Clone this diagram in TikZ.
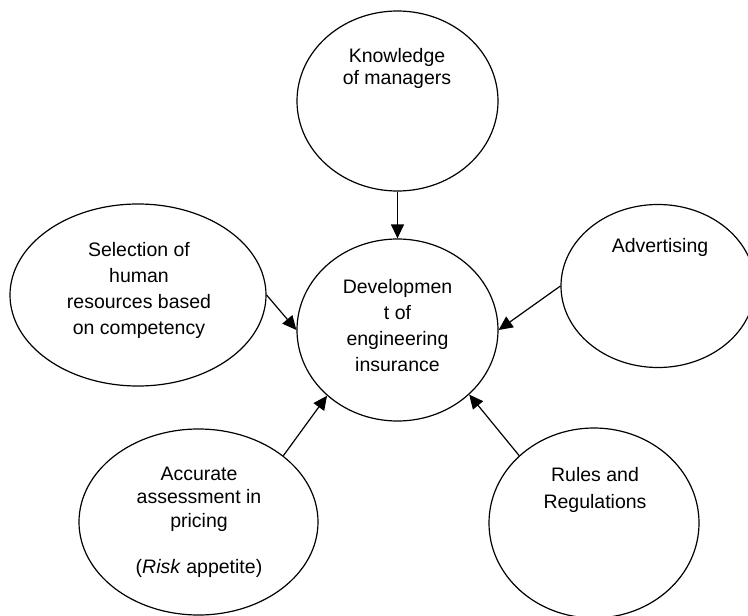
\documentclass[tikz,border=0pt]{standalone}
\usepackage{fontspec}
\setmainfont{Liberation Sans}
\usetikzlibrary{shapes.geometric}
\usetikzlibrary{arrows.meta}
\usetikzlibrary{calc}

\begin{document}
\begin{tikzpicture}[x=1pt, y=-1pt, line width=1.2pt,
    bubble/.style={draw, ellipse, inner sep=0pt},
    lbl/.style={align=center, inner sep=0pt, font=\fontsize{19.5}{#1}\selectfont},
    >={Triangle[length=14pt,width=13pt]}]
  \useasboundingbox (0,0) rectangle (748,616);
  \clip (0,0) rectangle (748,616);

  % the six bubbles
  \node[bubble, minimum width=201pt, minimum height=180pt] (kn) at (397.5,101) {};
  \node[bubble, minimum width=201pt, minimum height=182pt] (dev) at (397.5,330) {};
  \node[bubble, minimum width=256pt, minimum height=182pt] (sel) at (138,295) {};
  \node[bubble, minimum width=194pt, minimum height=163pt] (adv) at (658,286) {};
  \node[bubble, minimum width=239pt, minimum height=186pt] (acc) at (198.5,522) {};
  \node[bubble, minimum width=210pt, minimum height=190pt] (rul) at (594,523) {};

  % their texts
  \node[lbl=22] (kn-t) at (397,68) {Knowledge\\of managers};
  \node[lbl=26] (dev-t) at (397.5,325.5) {Developmen\\t of\\engineering\\insurance};
  \node[lbl=26] (sel-t) at (139,290) {Selection of\\human\\resources based\\on competency};
  \node[lbl=26] (adv-t) at (660,247) {Advertising};
  \node[lbl=23.3] (acc-t) at (199,522.5) {Accurate\\assessment in\\pricing\\[23.3pt](\textit{Risk} appetite)};
  \node[lbl=27] (rul-t) at (595,489.5) {Rules and\\Regulations};

  \path[->] (kn) edge (dev);
  \path[->] (sel.east) edge (dev.west);
  \path[->] (adv.west) edge (dev.east);
  \path[->] (acc.38) edge (dev.223);
  \path[->] (rul.138) edge (dev.318);
\end{tikzpicture}
\end{document}
